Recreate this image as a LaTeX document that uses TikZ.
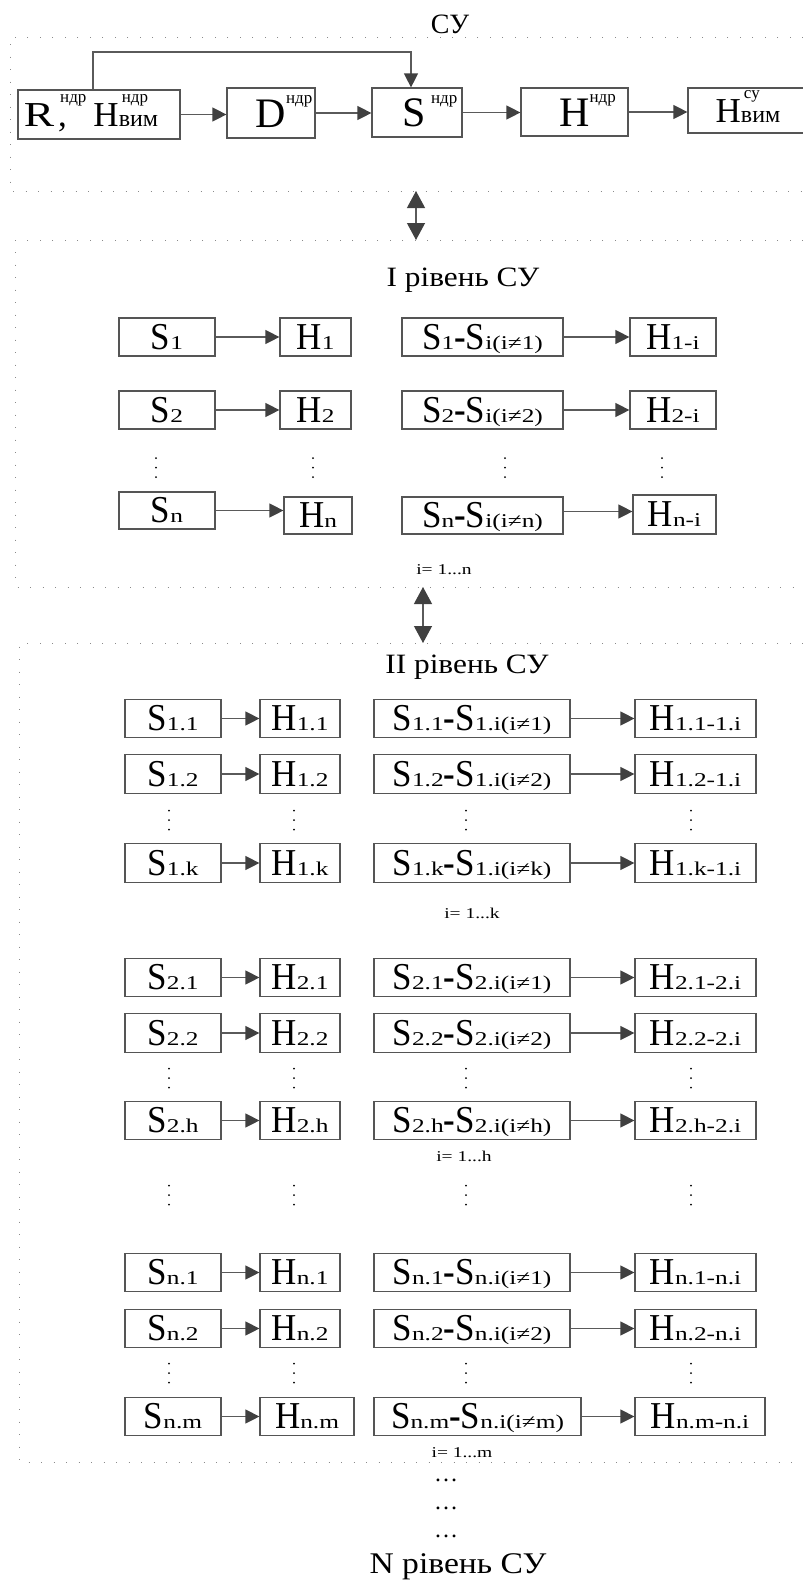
\documentclass[tikz,border=0pt]{standalone}
\usepackage{fontspec}
\setmainfont{Liberation Serif}
\newfontfamily\mainf[FakeStretch=0.92]{Liberation Serif}
\newfontfamily\subf[FakeStretch=1.3]{Liberation Serif}
\newfontfamily\titf[FakeStretch=1.12]{Liberation Serif}
\usetikzlibrary{arrows.meta}
\definecolor{boxgray}{HTML}{555555}
\definecolor{linegray}{HTML}{5A5A5A}
\definecolor{headgray}{HTML}{404040}
\definecolor{dotgray}{HTML}{8A8A8A}
\newcommand\M{\mainf\fontsize{38}{38}\selectfont}
\newcommand\lo[1]{{\subf\fontsize{19.5}{19.5}\selectfont #1}}
\newcommand\ssup[1]{\raisebox{23.5pt}{\fontsize{17}{17}\selectfont #1}}
\newcommand\ssub[1]{{\fontsize{24}{24}\selectfont #1}}
\newcommand\supsub[2]{\rlap{\hspace{3pt}\ssup{#1}}\ssub{#2}}
\newcommand\hy{{\bfseries -}}
\tikzset{
 bx/.style={draw=boxgray, line width=1.2pt, inner sep=0pt, text height=24.5pt, text depth=0pt, font=\M},
 bxs/.style={draw=boxgray, line width=1.2pt, inner sep=0pt, text height=23pt, text depth=0pt, font=\fontsize{35}{35}\selectfont},
 bxl/.style={draw=boxgray, line width=1.2pt, inner sep=0pt, text height=28pt, text depth=0pt, font=\fontsize{42}{42}\selectfont},
 arr/.style={draw=linegray, line width=1.2pt, -{Triangle[length=14pt,width=14pt,color=headgray]}},
 darr/.style={draw=linegray, line width=1.2pt, {Triangle[length=17pt,width=18pt,color=headgray]}-{Triangle[length=17pt,width=18pt,color=headgray]}},
 frm/.style={draw=dotgray, line width=1pt, dash pattern=on 1pt off 11.5pt},
 dot/.style={fill=black},
 ttl/.style={anchor=base, inner sep=0pt, font=\titf\fontsize{28}{28}\selectfont},
 idx/.style={anchor=base, inner sep=0pt, font=\subf\fontsize{15}{15}\selectfont},
 hdots/.style={anchor=base, inner sep=0pt, font=\fontsize{24}{24}\selectfont},
}
\begin{document}
\begin{tikzpicture}[x=1pt,y=-1pt]
\fill[white] (0,0) rectangle (803,1580);
\useasboundingbox (0,0) rectangle (803,1580);

% ---------- frames ----------
\draw[frm] (803,37) -- (10,37) -- (10,191) -- (803,191);
\draw[frm] (803,240) -- (15,240) -- (15,587) -- (803,587);
\draw[frm] (803,643) -- (19,643) -- (19,1462) -- (803,1462);

% ---------- top level ----------
\node[ttl, font=\fontsize{28}{28}\selectfont] (t0) at (450,33) {СУ};
\node[bxs, minimum width=162pt, minimum height=49pt] (rh) at (99,114.5)
  {{\subf R}\hspace{4pt}\rlap{,}\hspace{2pt}\ssup{ндр}\hspace{7pt}H\supsub{ндр}{вим}\hspace*{16pt}};
\node[bxl, minimum width=88pt, minimum height=50pt] (d0) at (271,113)
  {\hspace*{26pt}D\ssup{ндр}};
\node[bxl, minimum width=90pt, minimum height=49pt] (s0) at (417,112.5)
  {\hspace*{26pt}S\hspace{5pt}\ssup{ндр}};
\node[bxl, minimum width=107pt, minimum height=48pt] (h0) at (574.5,112)
  {\hspace*{26pt}H\ssup{ндр}};
\node[bxs, minimum width=120pt, minimum height=45pt] (hv) at (748,110.5)
  {H\supsub{су}{вим}};
\draw[arr] (rh.east) -- (rh.east -| d0.west);
\draw[arr] (d0.east) -- (d0.east -| s0.west);
\draw[arr] (s0.east) -- (s0.east -| h0.west);
\draw[arr] (h0.east) -- (h0.east -| hv.west);
\coordinate (fbA) at (93,52);
\coordinate (fbB) at (411,52);
\draw[arr] (rh.north -| fbA) -- (fbA) -- (fbB) -- (fbB |- s0.north);

\coordinate (c1a) at (416,191);
\coordinate (c1b) at (416,240);
\draw[darr] (c1a) -- (c1b);

% ---------- level I ----------
\node[ttl] (t1) at (463,286) {I рівень СУ};
\foreach \yy/\k/\nm in {337/1/r1, 410/2/r2}{
  \node[bx, minimum width=96pt, minimum height=38pt] (S\nm) at (167,\yy) {S\lo{\k}};
  \node[bx, minimum width=71pt, minimum height=38pt] (H\nm) at (315.5,\yy) {H\lo{\k}};
  \node[bx, minimum width=161pt, minimum height=38pt] (SS\nm) at (482.5,\yy) {S\lo{\k}\hy S\lo{i(i≠\k)}};
  \node[bx, minimum width=86pt, minimum height=38pt] (HH\nm) at (673,\yy) {H\lo{\k-i}};
  \draw[arr] (S\nm) -- (H\nm);
  \draw[arr] (SS\nm) -- (HH\nm);
}
\node[bx, minimum width=96pt, minimum height=37pt] (Srn) at (167,510.5) {S\lo{n}};
\node[bx, minimum width=68pt, minimum height=37pt] (Hrn) at (318,515.5) {H\lo{n}};
\node[bx, minimum width=161pt, minimum height=37pt] (SSrn) at (482.5,515.5) {S\lo{n}\hy S\lo{i(i≠n)}};
\node[bx, minimum width=83pt, minimum height=39pt] (HHrn) at (674.5,514.5) {H\lo{n-i}};
\draw[arr] (Srn.east) -- (Srn.east -| Hrn.west);
\draw[arr] ([yshift=4pt]SSrn.east) -- ([yshift=4pt]SSrn.east -| HHrn.west);
\foreach \xx in {156, 313, 505, 662}{
  \foreach \dy in {-9.5, 0, 9.5}{
    \fill[dot] (\xx,467.5+\dy) circle (1pt);
  }
}
\node[idx] (i1) at (444,574) {i= 1...n};

\coordinate (c2a) at (423,587);
\coordinate (c2b) at (423,643);
\draw[darr] (c2a) -- (c2b);

% ---------- level II ----------
\node[ttl] (t2) at (467,673) {II рівень СУ};
\foreach \yy/\t/\p/\q/\nm in {718.5/1.1/1/1/a1, 774/1.2/1/2/a2, 863/1.k/1/k/ak,
  977.5/2.1/2/1/b1, 1033/2.2/2/2/b2, 1120.5/2.h/2/h/bh,
  1272.5/n.1/n/1/c1, 1328.5/n.2/n/2/c2}{
  \node[bx, minimum width=96pt, minimum height=38.5pt] (S\nm) at (173,\yy) {S\lo{\t}};
  \node[bx, minimum width=80pt, minimum height=38.5pt] (H\nm) at (300,\yy) {H\lo{\t}};
  \node[bx, minimum width=196pt, minimum height=38.5pt] (SS\nm) at (472,\yy) {S\lo{\t}\hy S\lo{\p.i(i≠\q)}};
  \node[bx, minimum width=121pt, minimum height=38.5pt] (HH\nm) at (695.5,\yy) {H\lo{\t-\p.i}};
  \draw[arr] (S\nm) -- (H\nm);
  \draw[arr] (SS\nm) -- (HH\nm);
}
\node[bx, minimum width=96pt, minimum height=38.5pt] (Scm) at (173,1416.5) {S\lo{n.m}};
\node[bx, minimum width=94pt, minimum height=38.5pt] (Hcm) at (307,1416.5) {H\lo{n.m}};
\node[bx, minimum width=207pt, minimum height=38.5pt] (SScm) at (477.5,1416.5) {S\lo{n.m}\hy S\lo{n.i(i≠m)}};
\node[bx, minimum width=130pt, minimum height=38.5pt] (HHcm) at (700,1416.5) {H\lo{n.m-n.i}};
\draw[arr] (Scm) -- (Hcm);
\draw[arr] (SScm) -- (HHcm);

\foreach \yy in {820, 1078, 1195, 1373}{
  \foreach \xx in {169, 294, 466, 691}{
    \foreach \dy in {-9.5, 0, 9.5}{
      \fill[dot] (\xx,\yy+\dy) circle (1pt);
    }
  }
}
\node[idx] (ik) at (472,918) {i= 1...k};
\node[idx] (ih) at (464,1161) {i= 1...h};
\node[idx] (im) at (462,1457) {i= 1...m};

% ---------- below ----------
\node[hdots] (e1) at (446,1481) {…};
\node[hdots] (e2) at (446,1509) {…};
\node[hdots] (e3) at (446,1537) {…};
\node[ttl, font=\titf\fontsize{30}{30}\selectfont] (tN) at (458,1573) {N рівень СУ};
\end{tikzpicture}
\end{document}
